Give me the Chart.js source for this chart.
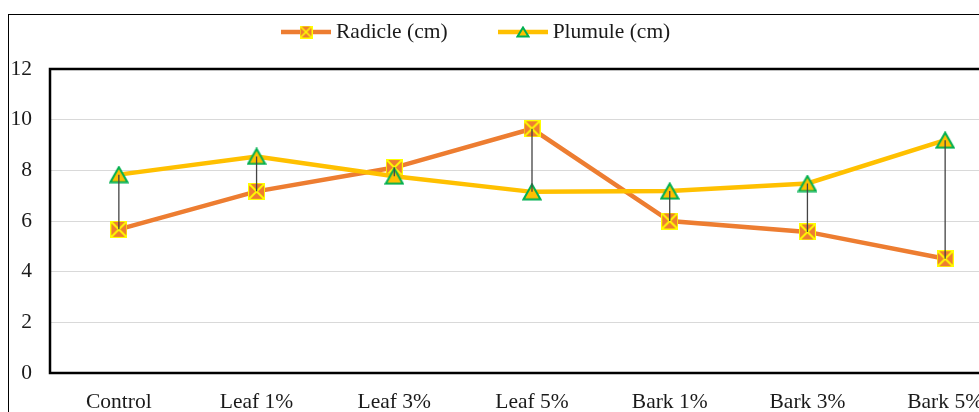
<!DOCTYPE html>
<html>
<head>
<meta charset="utf-8">
<script src="https://cdn.jsdelivr.net/npm/chart.js@4.4.1/dist/chart.umd.min.js"></script>
<style>
    body { margin: 0; background: #fff; overflow: hidden; }
    #frame { position: relative; width: 979px; height: 412px; overflow: hidden; background: #fff; }
    #outline { position: absolute; left: 8px; top: 14px; width: 1100px; height: 500px;
               border-left: 1px solid #000; border-top: 1px solid #000; pointer-events: none; }
    #chart { position: absolute; left: 0; top: 0; }
    #legend { position: absolute; left: 281px; top: 19px; display: flex; align-items: center;
              font-family: 'Liberation Serif', 'Times New Roman', serif; font-size: 21.5px; color: #1a1a1a; }
    .item { display: flex; align-items: center; margin-right: 50px; }
    .item canvas { margin-right: 5px; }
</style>
</head>
<body>
<div id="frame">
    <canvas id="chart" width="1030" height="430"></canvas>
    <div id="outline"></div>
    <div id="legend"></div>
</div>
<script>
const categories = ['Control', 'Leaf 1%', 'Leaf 3%', 'Leaf 5%', 'Bark 1%', 'Bark 3%', 'Bark 5%'];
const radicle = [5.67, 7.17, 8.11, 9.64, 6.0, 5.57, 4.51];
const plumule = [7.83, 8.55, 7.77, 7.15, 7.18, 7.48, 9.19];
const seriesNames = ['Radicle (cm)', 'Plumule (cm)'];
const yMin = 0, yMax = 12, yStep = 2;

const ORANGE = '#ED7D31';
const GOLD = '#FFC000';
const GREEN = '#00B050';
const YELLOW = '#FFFF00';
const FONT = "'Liberation Serif', 'Times New Roman', serif";

// marker images
function squareX(size, xw) {
    const c = document.createElement('canvas');
    c.width = size; c.height = size;
    const g = c.getContext('2d');
    g.fillStyle = ORANGE;
    g.fillRect(0, 0, size, size);
    g.strokeStyle = YELLOW;
    g.lineWidth = 1;
    g.strokeRect(0.5, 0.5, size - 1, size - 1);
    g.lineWidth = xw;
    g.beginPath();
    g.moveTo(1, 1); g.lineTo(size - 1, size - 1);
    g.moveTo(size - 1, 1); g.lineTo(1, size - 1);
    g.stroke();
    return c;
}

function triangle(w, h) {
    const c = document.createElement('canvas');
    c.width = w; c.height = h;
    const g = c.getContext('2d');
    g.beginPath();
    g.moveTo(w / 2, 1.5);
    g.lineTo(w - 1.5, h - 1.5);
    g.lineTo(1.5, h - 1.5);
    g.closePath();
    g.fillStyle = GOLD;
    g.fill();
    g.strokeStyle = GREEN;
    g.lineWidth = 2;
    g.stroke();
    return c;
}

const radicleMark = squareX(17, 1.8);
const plumuleMark = triangle(20, 18);

// legend (html)
function legendItem(name, color, mark) {
    const item = document.createElement('div');
    item.className = 'item';
    const icon = document.createElement('canvas');
    icon.width = 50; icon.height = 20;
    const g = icon.getContext('2d');
    g.strokeStyle = color;
    g.lineWidth = 4.5;
    g.beginPath();
    g.moveTo(0, 10); g.lineTo(50, 10);
    g.stroke();
    g.drawImage(mark, 25 - mark.width / 2, 10 - mark.height / 2);
    const label = document.createElement('span');
    label.textContent = name;
    item.appendChild(icon);
    item.appendChild(label);
    document.getElementById('legend').appendChild(item);
}
legendItem(seriesNames[0], ORANGE, squareX(13, 1.6));
legendItem(seriesNames[1], GOLD, triangle(14, 12));

// high-low lines + plot border
const plotExtras = {
    id: 'plotExtras',
    beforeDatasetsDraw(chart) {
        const a = chart.chartArea;
        const ctx = chart.ctx;
        ctx.save();
        ctx.strokeStyle = '#000';
        ctx.lineWidth = 2.5;
        ctx.strokeRect(a.left, a.top, a.right - a.left, a.bottom - a.top);
        ctx.restore();
    },
    afterDatasetsDraw(chart) {
        const m0 = chart.getDatasetMeta(0).data;
        const m1 = chart.getDatasetMeta(1).data;
        const ctx = chart.ctx;
        ctx.save();
        ctx.strokeStyle = '#444';
        ctx.lineWidth = 1.3;
        ctx.beginPath();
        for (let i = 0; i < m0.length; i++) {
            ctx.moveTo(m0[i].x, m0[i].y);
            ctx.lineTo(m1[i].x, m1[i].y);
        }
        ctx.stroke();
        ctx.restore();
    }
};

const ctx = document.getElementById('chart').getContext('2d');
new Chart(ctx, {
    type: 'line',
    data: {
        labels: categories,
        datasets: [{
            label: seriesNames[0],
            data: radicle,
            borderColor: ORANGE,
            borderWidth: 4.5,
            pointStyle: radicleMark,
            order: 1,
        }, {
            label: seriesNames[1],
            data: plumule,
            borderColor: GOLD,
            borderWidth: 4.5,
            pointStyle: plumuleMark,
            order: 0,
        }],
    },
    options: {
        responsive: false,
        animation: false,
        devicePixelRatio: 1,
        layout: { padding: { top: 69, right: 16, left: 0, bottom: 0 } },
        plugins: {
            legend: { display: false },
            tooltip: { enabled: false },
        },
        scales: {
            x: {
                offset: true,
                grid: { display: false, drawTicks: false },
                border: { display: false },
                ticks: { color: '#1a1a1a', font: { family: FONT, size: 21.5 }, padding: 16 },
                afterFit(scale) { scale.height = 57; },
            },
            y: {
                min: yMin,
                max: yMax,
                grid: { color: '#D9D9D9', lineWidth: 1, drawTicks: false },
                border: { display: false },
                ticks: { stepSize: yStep, color: '#1a1a1a', font: { family: FONT, size: 21.5 }, padding: 18 },
                afterFit(scale) { scale.width = 50; },
            },
        },
    },
    plugins: [plotExtras],
});
</script>
</body>
</html>
